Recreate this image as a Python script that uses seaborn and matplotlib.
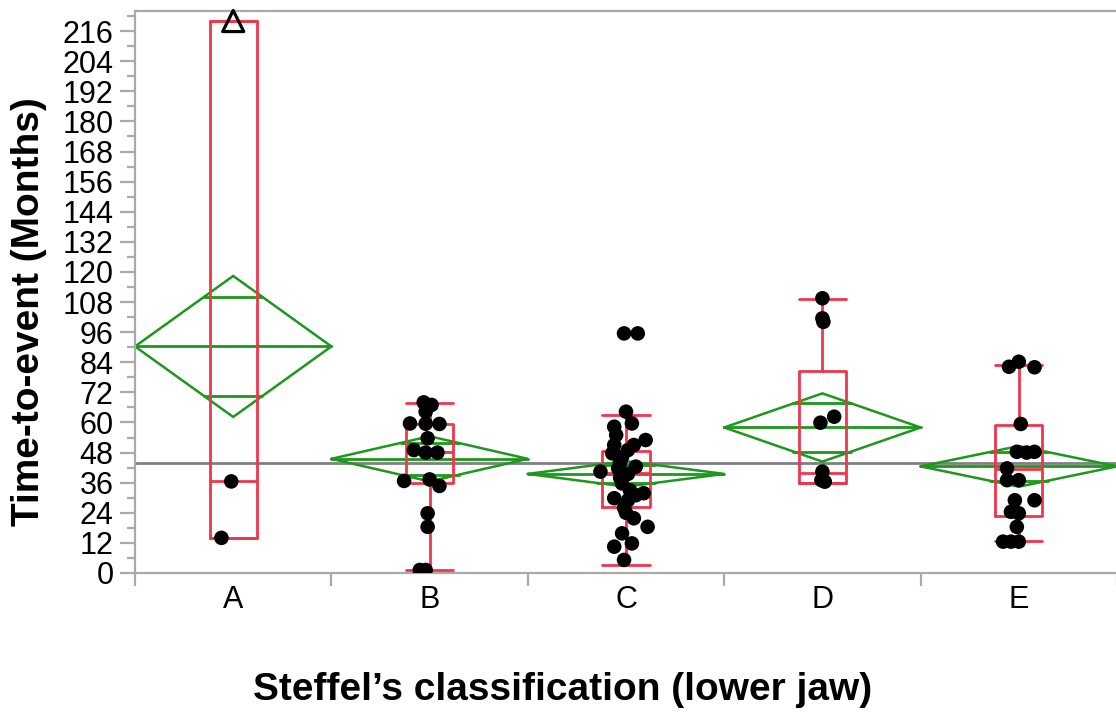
import numpy as np
import pandas as pd
import matplotlib
matplotlib.use("Agg")
import matplotlib.pyplot as plt
import seaborn as sns

# Groups (Steffel's classification, lower jaw)
categories = ["A", "B", "C", "D", "E"]

# Individual time-to-event values (months) and their horizontal jitter per group
a_values = [14, 36.5]
a_jitter = [-0.06, -0.01]
a_high = [220]            # highest A value, shown with an open triangle
b_values = [68, 67, 64.3, 59.6, 59.4, 59.5, 53.7, 49, 48, 48, 36.7, 37.3, 34.7, 23.8, 18.4, 1.2, 1.2]
b_jitter = [-0.03, 0.01, -0.02, -0.10, 0.05, -0.02, -0.01, -0.08, -0.02, 0.04, -0.13, 0.0, 0.05, -0.01, -0.01, -0.05, -0.02]
c_values = [95.5, 95.5, 64.3, 58.3, 59.6, 53, 51, 51, 47.7, 46.3, 42.4, 40.4, 41.7, 39.5, 35.7,
            31.8, 29.8, 29, 21.8, 18.4, 15.8, 10.5, 11.8, 5.2, 44, 49, 33, 26, 31, 38, 55, 24]
c_jitter = [-0.01, 0.06, 0.0, -0.06, 0.03, 0.10, -0.06, 0.04, -0.07, -0.02, 0.05, -0.13, -0.04, 0.01, -0.02,
            0.09, -0.06, 0.01, 0.04, 0.11, -0.02, -0.06, 0.03, -0.01, -0.03, 0.01, 0.02, -0.01, 0.05, -0.03, -0.05, 0.0]
d_values = [109.5, 101.5, 100.1, 59.9, 62.3, 40.4, 37, 36.4]
d_jitter = [0.0, 0.0, 0.005, -0.01, 0.06, 0.0, -0.005, 0.012]
e_values = [84.2, 82.2, 82, 59.4, 48.3, 48.3, 48, 41.7, 37, 37, 29, 29, 24.4, 23.8, 18.4, 12.5, 12.5, 12.5]
e_jitter = [0.0, -0.05, 0.08, 0.01, -0.01, 0.08, 0.04, -0.06, -0.06, 0.0, -0.02, 0.08, -0.04, 0.0, -0.01, -0.08, 0.0, -0.04]

# Means diamonds: group mean and 95% confidence limits
group_means = [90.3, 45.5, 39.5, 58.0, 42.5]
ci_low = [62.2, 36.5, 34.4, 44.4, 34.4]
ci_high = [118.4, 54.5, 44.6, 71.6, 50.6]
grand_mean = 43.8

# Outlier box plots: whisker ends, quartiles, median
whisker_low = [14, 1, 3.2, 35.7, 12.7]
q1 = [14, 35.7, 26.4, 35.7, 22.7]
median = [36.5, 48.3, 40.0, 39.7, 41.3]
q3 = [220, 59.2, 48.7, 80.6, 59.0]
whisker_high = [220, 67.6, 62.8, 109.4, 83.1]

y_ticks = list(range(0, 217, 12))

RED = "#f0364a"
GREEN = "#1c981c"
AXIS_GRAY = "#aaaaaa"

sns.set_style("white")
plt.rcParams["font.family"] = ["Liberation Sans", "DejaVu Sans"]
plt.rcParams["text.color"] = "black"
plt.rcParams["xtick.color"] = "black"
plt.rcParams["ytick.color"] = "black"

groups = [a_values, b_values, c_values, d_values, e_values]
jitters = [a_jitter, b_jitter, c_jitter, d_jitter, e_jitter]
rows = []
for i, (vals, jit) in enumerate(zip(groups, jitters)):
    for v, j in zip(vals, jit):
        rows.append({"group": categories[i], "pos": i + j, "months": v})
df = pd.DataFrame(rows)

fig = plt.figure(figsize=(11.16, 7.13), dpi=100)
ax = fig.add_axes([135 / 1116, 1 - 573 / 713, 982 / 1116, (573 - 11) / 713])

# Grand mean reference line
ax.axhline(grand_mean, color="#808080", lw=2.0, zorder=1)

# Means diamonds with overlap marks
for i, (m, lo, hi) in enumerate(zip(group_means, ci_low, ci_high)):
    xs = [i - 0.5, i, i + 0.5, i, i - 0.5]
    ys = [m, hi, m, lo, m]
    ax.plot(xs, ys, color=GREEN, lw=1.8, zorder=2, solid_joinstyle="miter")
    ax.plot([i - 0.5, i + 0.5], [m, m], color=GREEN, lw=2.0, zorder=2)
    half = (hi - m) / np.sqrt(2)
    for yv in (m + half, m - half):
        ax.plot([i - 0.148, i + 0.148], [yv, yv], color=GREEN, lw=2.0, zorder=2)

# Box plots
stats = []
for i in range(len(categories)):
    stats.append({"whislo": whisker_low[i], "q1": q1[i], "med": median[i],
                  "q3": q3[i], "whishi": whisker_high[i], "fliers": []})
ax.bxp(stats, positions=range(len(categories)), widths=0.24, showfliers=False,
       boxprops=dict(color=RED, lw=2.0), medianprops=dict(color=RED, lw=2.0),
       whiskerprops=dict(color=RED, lw=2.0), capprops=dict(color=RED, lw=2.0),
       capwidths=0.24, manage_ticks=False, zorder=3)

# Points
sns.scatterplot(data=df, x="pos", y="months", color="black", s=110, edgecolor="none",
                ax=ax, zorder=4, legend=False)
ax.scatter([0] * len(a_high), a_high, marker="^", s=230, facecolors="none",
           edgecolors="black", linewidths=2.3, zorder=5, clip_on=False)

ax.set_xlim(-0.5, 4.5)
ax.set_ylim(0, 224)
ax.set_xlabel("")
ax.set_ylabel("")

ax.set_yticks(y_ticks)
ax.set_yticks(np.arange(6, 224, 12), minor=True)
ax.set_yticklabels([str(t) for t in y_ticks], fontsize=22)
ax.set_xticks(range(len(categories)))
ax.set_xticklabels(categories, fontsize=22)
ax.set_xticks(np.arange(-0.5, 4.6, 1.0), minor=True)

ax.tick_params(axis="y", which="both", left=True, labelcolor="black")
ax.tick_params(axis="x", which="both", bottom=True, labelcolor="black")
ax.tick_params(axis="y", which="major", length=10.5, width=1.6, color=AXIS_GRAY, pad=5, direction="out")
ax.tick_params(axis="y", which="minor", length=5.5, width=1.6, color=AXIS_GRAY, direction="out")
ax.tick_params(axis="x", which="major", length=0, pad=9)
ax.tick_params(axis="x", which="minor", length=9, width=1.6, color=AXIS_GRAY, direction="out")

for side in ("left", "bottom", "top"):
    ax.spines[side].set_color(AXIS_GRAY)
    ax.spines[side].set_linewidth(1.6)
ax.spines["right"].set_visible(False)

fig.text(29 / 1116, 1 - 312 / 713, "Time-to-event (Months)", rotation=90,
         ha="center", va="center", fontsize=28, fontweight="bold", color="black")
fig.text(563 / 1116, 1 - 690 / 713, "Steffel\u2019s classification (lower jaw)",
         ha="center", va="center", fontsize=28, fontweight="bold", color="black")

fig.savefig("out.png", dpi=100)
